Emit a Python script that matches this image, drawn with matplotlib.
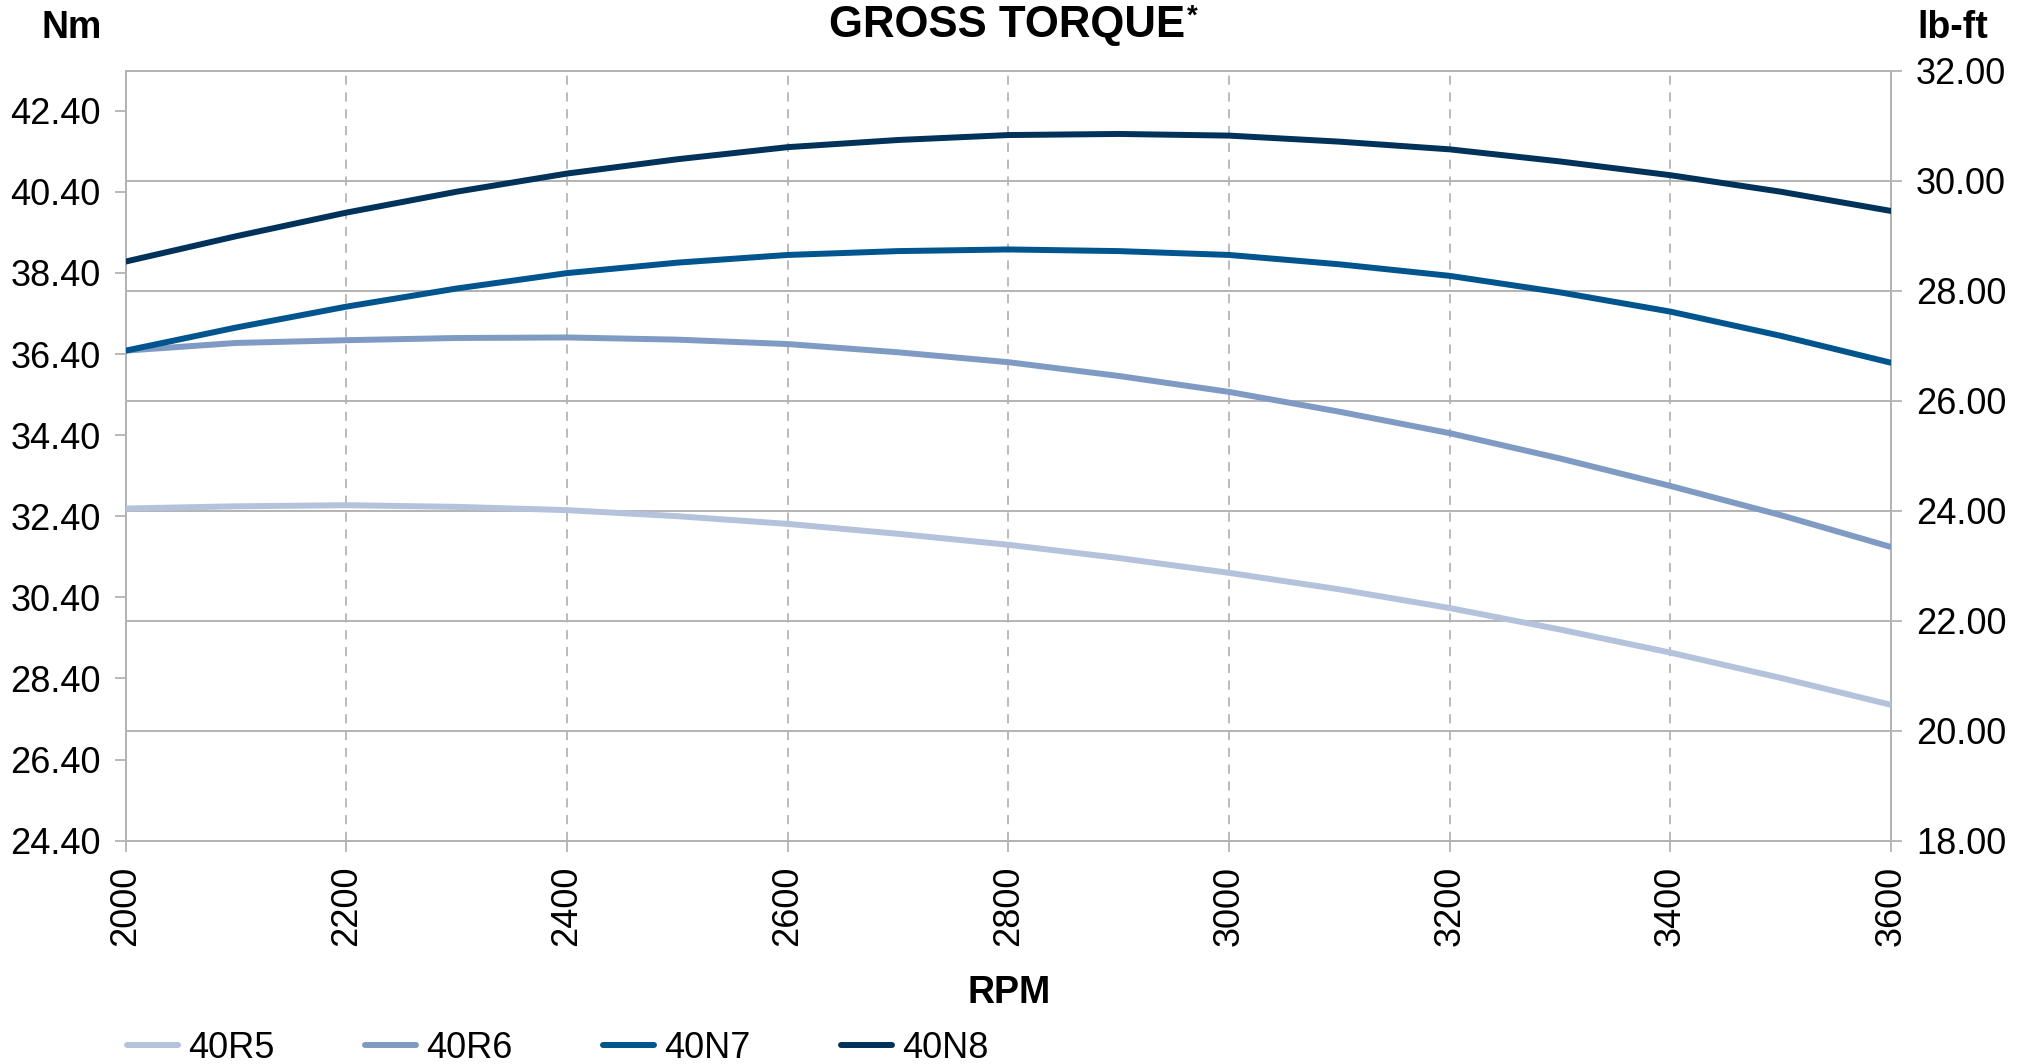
import matplotlib
matplotlib.use("Agg")
import matplotlib.pyplot as plt

plt.rcParams['font.family'] = ['Liberation Sans', 'DejaVu Sans']

rpm = [2000, 2100, 2200, 2300, 2400, 2500, 2600, 2700, 2800, 2900,
       3000, 3100, 3200, 3300, 3400, 3500, 3600]
series_names = ["40R5", "40R6", "40N7", "40N8"]
# Torque in lb-ft (right axis)
torque_40R5 = [24.04, 24.08, 24.10, 24.07, 24.01, 23.90, 23.76, 23.58, 23.38, 23.14,
               22.87, 22.57, 22.23, 21.84, 21.42, 20.96, 20.47]
torque_40R6 = [26.91, 27.05, 27.10, 27.14, 27.15, 27.11, 27.03, 26.88, 26.70, 26.45,
               26.16, 25.80, 25.41, 24.95, 24.45, 23.92, 23.34]
torque_40N7 = [26.91, 27.33, 27.71, 28.04, 28.32, 28.51, 28.65, 28.72, 28.75, 28.72,
               28.65, 28.48, 28.27, 27.97, 27.62, 27.18, 26.69]
torque_40N8 = [28.53, 28.99, 29.42, 29.80, 30.13, 30.39, 30.61, 30.74, 30.83, 30.85,
               30.82, 30.71, 30.57, 30.35, 30.10, 29.80, 29.45]
colors = ["#b5c2dc", "#7f9bc3", "#00558f", "#00325a"]

lbft_ticks = [18.00, 20.00, 22.00, 24.00, 26.00, 28.00, 30.00, 32.00]
nm_ticks = [24.40, 26.40, 28.40, 30.40, 32.40, 34.40, 36.40, 38.40, 40.40, 42.40]
rpm_ticks = [2000, 2200, 2400, 2600, 2800, 3000, 3200, 3400, 3600]
NM_PER_LBFT = 1.35582

W, H = 2029, 1064
fig = plt.figure(figsize=(W / 100, H / 100), dpi=100)
left, right, top, bottom = 125.7, 1891.0, 70.7, 840.7
ax = fig.add_axes([left / W, 1 - bottom / H, (right - left) / W, (bottom - top) / H])
ax2 = ax.twinx()

grey = "#b3b3b3"
tick_fs = 26

ax.set_xlim(2000, 3600)
ax2.set_ylim(18, 32)
ax.set_ylim(18 * NM_PER_LBFT, 32 * NM_PER_LBFT)

for s in ['top', 'bottom', 'left', 'right']:
    for a in (ax, ax2):
        a.spines[s].set_color(grey)
        a.spines[s].set_linewidth(1.3)

ax.set_xticks(rpm_ticks)
ax.set_xticklabels([str(v) for v in rpm_ticks], rotation=90, fontsize=tick_fs)
ax.set_yticks(nm_ticks)
ax.set_yticklabels([f"{v:.2f}" for v in nm_ticks], fontsize=tick_fs)
ax2.set_yticks(lbft_ticks)
ax2.set_yticklabels([f"{v:.2f}" for v in lbft_ticks], fontsize=tick_fs)

ax.tick_params(axis='both', direction='out', length=8, width=1.3, color=grey, pad=10)
ax2.tick_params(axis='y', direction='out', length=8, width=1.3, color=grey, pad=10)

ax.xaxis.grid(True, color="#a8a8a8", linestyle=(0, (6, 5)), linewidth=1.1)
ax.yaxis.grid(False)
ax2.yaxis.grid(True, color=grey, linestyle='-', linewidth=1.4)
ax2.set_axisbelow(True)

all_series = [torque_40R5, torque_40R6, torque_40N7, torque_40N8]
handles = []
for name, vals, c in zip(series_names, all_series, colors):
    h, = ax2.plot(rpm, vals, color=c, linewidth=4.3, solid_capstyle='round',
                  solid_joinstyle='round', label=name, zorder=3)
    handles.append(h)

title = fig.text(1007 / W, 1 - 37 / H, "GROSS TORQUE", fontsize=31.5, fontweight='bold',
                 ha='center', va='baseline')
ax.annotate("*", xy=(1, 1), xycoords=title, xytext=(1, 1), textcoords='offset points',
            fontsize=20, fontweight='bold', ha='left', va='top')

fig.text(72 / W, 1 - 38 / H, "Nm", fontsize=27, fontweight='bold', ha='center', va='baseline')
fig.text(1953 / W, 1 - 38 / H, "lb-ft", fontsize=27, fontweight='bold', ha='center', va='baseline')
fig.text(1009 / W, 1 - 1003 / H, "RPM", fontsize=27, fontweight='bold', ha='center', va='baseline')

fig.legend(handles=handles, labels=series_names, loc='center left',
           bbox_to_anchor=(127 / W, 1 - 1048 / H), ncol=4, frameon=False,
           fontsize=26, handlelength=1.4, handletextpad=0.3, columnspacing=2.5,
           borderpad=0, borderaxespad=0)

fig.savefig("out.png", dpi=100)
